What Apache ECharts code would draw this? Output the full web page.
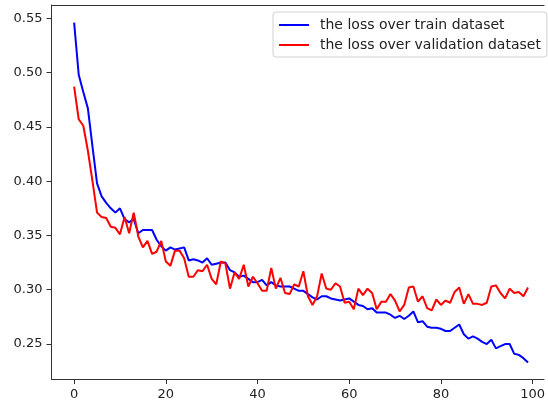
<!DOCTYPE html>
<html>
<head>
<meta charset="utf-8">
<script src="https://cdn.jsdelivr.net/npm/echarts@6/dist/echarts.min.js"></script>
<style>html,body{margin:0;padding:0;background:#fff}#c{width:548px;height:404px}</style>
</head>
<body>
<div id="c"></div>
<script>
var seriesNames = ['the loss over train dataset', 'the loss over validation dataset'];
var xTicks = [0, 20, 40, 60, 80, 100];
var yTicks = [0.25, 0.30, 0.35, 0.40, 0.45, 0.50, 0.55];
var trainLoss = [
0.546,0.498,0.482,0.467,0.432,0.398,0.386,0.380,0.375,0.371,
0.375,0.365,0.362,0.365,0.352,0.355,0.355,0.355,0.346,0.340,
0.336,0.339,0.337,0.338,0.339,0.327,0.328,0.327,0.325,0.329,
0.323,0.324,0.325,0.325,0.318,0.316,0.312,0.313,0.310,0.307,
0.307,0.309,0.304,0.307,0.304,0.303,0.303,0.303,0.301,0.299,
0.299,0.296,0.293,0.291,0.294,0.294,0.292,0.291,0.290,0.291,
0.292,0.289,0.286,0.285,0.282,0.283,0.279,0.279,0.279,0.277,
0.274,0.276,0.273,0.276,0.280,0.270,0.271,0.266,0.265,0.265,
0.264,0.262,0.262,0.265,0.268,0.259,0.255,0.257,0.255,0.252,
0.250,0.254,0.246,0.248,0.250,0.250,0.241,0.240,0.237,0.233];
var valLoss = [
0.487,0.457,0.451,0.428,0.400,0.371,0.367,0.366,0.358,0.357,
0.351,0.367,0.352,0.371,0.349,0.339,0.345,0.333,0.335,0.345,
0.326,0.322,0.336,0.336,0.329,0.312,0.312,0.318,0.317,0.323,
0.310,0.305,0.326,0.324,0.301,0.316,0.310,0.323,0.303,0.312,
0.306,0.299,0.299,0.320,0.301,0.311,0.297,0.296,0.305,0.303,
0.317,0.294,0.286,0.294,0.315,0.301,0.300,0.306,0.303,0.288,
0.289,0.282,0.301,0.295,0.301,0.297,0.282,0.289,0.289,0.296,
0.290,0.280,0.286,0.302,0.303,0.289,0.294,0.283,0.281,0.291,
0.286,0.290,0.288,0.298,0.302,0.287,0.296,0.287,0.287,0.286,
0.288,0.303,0.304,0.297,0.292,0.301,0.297,0.298,0.294,0.302];

function pairs(arr){ return arr.map(function(v,i){return [i,v];}); }
var FONT = 'DejaVu Sans';
var XMIN = -4.935, XMAX = 102.5;
var chart = echarts.init(document.getElementById('c'), null, {renderer:'canvas'});
chart.setOption({
  animation:false,
  backgroundColor:'#fff',
  grid:{left:51.5, top:5, bottom:25, right:0, show:false},
  legend:{
    orient:'vertical', left:273, top:12,
    backgroundColor:'#fff', borderColor:'#d0d0d0', borderWidth:1, borderRadius:3,
    padding:[5,6,4,6], itemWidth:30, itemHeight:2, itemGap:4, icon:'rect',
    textStyle:{fontFamily:FONT, fontSize:14, lineHeight:16, color:'#222', padding:[0,0,0,6]},
    data:seriesNames
  },
  xAxis:[{
    type:'value', min:XMIN, max:XMAX,
    axisLine:{show:true, onZero:false, lineStyle:{color:'#333', width:1}},
    axisTick:{show:true, length:5, customValues:xTicks, lineStyle:{color:'#333'}},
    axisLabel:{customValues:xTicks, margin:9, fontFamily:FONT, fontSize:13, color:'#222'},
    splitLine:{show:false}
  },{
    type:'value', position:'top', min:XMIN, max:XMAX,
    axisLine:{show:true, onZero:false, lineStyle:{color:'#333', width:1}},
    axisTick:{show:false}, axisLabel:{show:false}, splitLine:{show:false}
  }],
  yAxis:{
    type:'value', min:0.2178, max:0.5622,
    axisLine:{show:true, onZero:false, lineStyle:{color:'#333', width:1}},
    axisTick:{show:true, length:5, customValues:yTicks, lineStyle:{color:'#333'}},
    axisLabel:{customValues:yTicks, margin:9, fontFamily:FONT, fontSize:13, color:'#222',
      formatter:function(v){return v.toFixed(2);}},
    splitLine:{show:false}
  },
  series:[
    {name:seriesNames[0], type:'line', data:pairs(trainLoss), showSymbol:false, symbol:'none',
      lineStyle:{color:'#0000ff', width:2}, itemStyle:{color:'#0000ff'}},
    {name:seriesNames[1], type:'line', data:pairs(valLoss), showSymbol:false, symbol:'none',
      lineStyle:{color:'#ff0000', width:2}, itemStyle:{color:'#ff0000'}}
  ]
});
</script>
</body>
</html>
